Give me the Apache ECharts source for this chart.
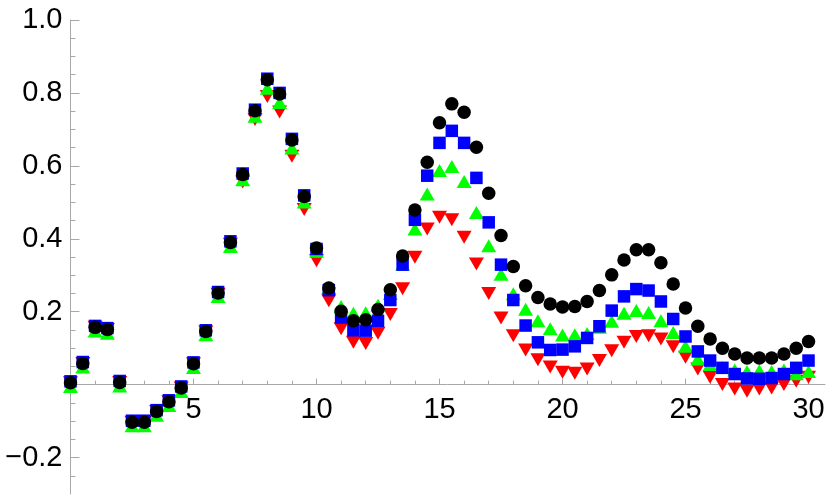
<!DOCTYPE html>
<html>
<head>
<meta charset="utf-8">
<script src="https://cdn.jsdelivr.net/npm/echarts@6/dist/echarts.min.js"></script>
<style>html,body{margin:0;padding:0;background:#fff;}#c{width:830px;height:498px;}</style>
</head>
<body>
<div id="c"></div>
<script>
var xs = [0,0.5,1,1.5,2,2.5,3,3.5,4,4.5,5,5.5,6,6.5,7,7.5,8,8.5,9,9.5,10,10.5,11,11.5,12,12.5,13,13.5,14,14.5,15,15.5,16,16.5,17,17.5,18,18.5,19,19.5,20,20.5,21,21.5,22,22.5,23,23.5,24,24.5,25,25.5,26,26.5,27,27.5,28,28.5,29,29.5,30];

var blackVals = [0.005,0.058,0.157,0.151,0.006,-0.103,-0.103,-0.074,-0.047,-0.009,0.057,
  0.146,0.251,0.390,0.576,0.751,0.836,0.797,0.671,0.516,0.375,
  0.265,0.201,0.175,0.178,0.206,0.260,0.353,0.479,0.610,0.718,
  0.770,0.747,0.651,0.525,0.409,0.324,0.271,0.239,0.221,0.213,
  0.214,0.228,0.258,0.301,0.342,0.370,0.370,0.334,0.276,0.210,
  0.160,0.125,0.100,0.084,0.073,0.073,0.073,0.084,0.100,0.118];

var blueVals = [0.009,0.062,0.161,0.155,0.010,-0.099,-0.099,-0.070,-0.043,-0.005,0.061,
  0.149,0.254,0.393,0.579,0.754,0.839,0.800,0.674,0.519,0.372,
  0.259,0.184,0.149,0.148,0.175,0.232,0.329,0.452,0.573,0.663,
  0.696,0.663,0.567,0.445,0.329,0.232,0.162,0.116,0.095,0.096,
  0.105,0.128,0.160,0.203,0.242,0.262,0.258,0.228,0.180,0.132,
  0.091,0.066,0.046,0.029,0.017,0.016,0.018,0.029,0.046,0.066];

var greenVals = [-0.005,0.048,0.147,0.141,-0.004,-0.113,-0.113,-0.084,-0.057,-0.019,0.047,
  0.137,0.242,0.379,0.562,0.736,0.813,0.774,0.649,0.501,0.366,
  0.266,0.214,0.196,0.197,0.218,0.250,0.330,0.427,0.523,0.587,
  0.598,0.557,0.472,0.381,0.303,0.249,0.207,0.175,0.153,0.136,
  0.137,0.140,0.157,0.174,0.196,0.203,0.198,0.175,0.143,0.105,
  0.070,0.055,0.047,0.040,0.036,0.038,0.036,0.040,0.030,0.036];

var redVals = [0.005,0.058,0.157,0.151,0.006,-0.103,-0.103,-0.074,-0.047,-0.009,0.057,
  0.144,0.248,0.385,0.556,0.727,0.790,0.748,0.626,0.480,0.340,
  0.230,0.153,0.116,0.113,0.141,0.192,0.263,0.349,0.427,0.459,
  0.452,0.404,0.331,0.250,0.183,0.134,0.095,0.068,0.048,0.034,
  0.031,0.043,0.066,0.093,0.116,0.132,0.134,0.125,0.104,0.075,
  0.043,0.020,0.000,-0.012,-0.018,-0.012,-0.009,0.000,0.009,0.020];

var xMajorTicks = [5,10,15,20,25,30];
var xMinorTicks = [1,2,3,4,6,7,8,9,11,12,13,14,16,17,18,19,21,22,23,24,26,27,28,29];
var yLabelTicks = [-0.2,0.2,0.4,0.6,0.8,1.0];
var yMajorTicks = [-0.2,0,0.2,0.4,0.6,0.8,1.0];
var yMinorTicks = [-0.25,-0.15,-0.1,-0.05,0.05,0.1,0.15,0.25,0.3,0.35,0.45,0.5,0.55,0.65,0.7,0.75,0.85,0.9,0.95];

function pairs(vals){ return xs.map(function(x,i){ return [x, vals[i]]; }); }

var AX = '#a8a8a8';
var FONT = 'Liberation Sans, Arial, sans-serif';
var XMAX = 30.67;
var YMIN = -0.3, YMAX = 1.0;
var GRID = {left:70.5, right:5, top:20, bottom:4};
var H = 498, W = 830;
var gridH = H - GRID.top - GRID.bottom;
var zeroPx = GRID.top + gridH * (YMAX - 0) / (YMAX - YMIN);
var bottomPx = H - GRID.bottom;

var chart = echarts.init(document.getElementById('c'), null, {renderer:'canvas'});
chart.setOption({
  animation:false,
  backgroundColor:'#fff',
  grid:{left:GRID.left, right:GRID.right, top:GRID.top, bottom:GRID.bottom, containLabel:false, outerBoundsMode:'none'},
  xAxis:[
    {type:'value', min:0, max:XMAX, position:'bottom', offset: zeroPx - bottomPx,
     axisLine:{show:true, onZero:false, lineStyle:{color:AX, width:1}},
     axisTick:{show:true, inside:true, length:6, customValues:xMajorTicks, lineStyle:{color:AX}},
     axisLabel:{show:true, customValues:xMajorTicks, fontSize:29, color:'#000', fontFamily:FONT, margin:11,
       formatter:function(v){return String(v);}},
     splitLine:{show:false}},
    {type:'value', min:0, max:XMAX, position:'top', offset: GRID.top - zeroPx,
     axisLine:{show:false, onZero:false},
     axisTick:{show:true, inside:false, length:4, customValues:xMinorTicks, lineStyle:{color:AX}},
     axisLabel:{show:false},
     splitLine:{show:false}}
  ],
  yAxis:[
    {type:'value', min:YMIN, max:YMAX, position:'left',
     axisLine:{show:true, onZero:false, lineStyle:{color:AX, width:1}},
     axisTick:{show:true, inside:true, length:9, customValues:yMajorTicks, lineStyle:{color:AX}},
     axisLabel:{show:true, customValues:yLabelTicks, fontSize:29, color:'#000', fontFamily:FONT, margin:8,
       formatter:function(v){ return v < 0 ? '\u2212' + Math.abs(v).toFixed(1) : v.toFixed(1); }},
     splitLine:{show:false}},
    {type:'value', min:YMIN, max:YMAX, position:'right', offset: GRID.left - (W - GRID.right),
     axisLine:{show:false, onZero:false},
     axisTick:{show:true, inside:false, length:5, customValues:yMinorTicks, lineStyle:{color:AX}},
     axisLabel:{show:false},
     splitLine:{show:false}}
  ],
  series:[
    {type:'scatter', name:'red', data:pairs(redVals), clip:false, symbol:'triangle', symbolSize:[15,13], symbolRotate:180,
     itemStyle:{color:'#ff0000', opacity:1}, xAxisIndex:0, yAxisIndex:0},
    {type:'scatter', name:'green', data:pairs(greenVals), clip:false, symbol:'triangle', symbolSize:[15,13],
     itemStyle:{color:'#00ff00', opacity:1}, xAxisIndex:0, yAxisIndex:0},
    {type:'scatter', name:'blue', data:pairs(blueVals), clip:false, symbol:'rect', symbolSize:12.5,
     itemStyle:{color:'#0000ff', opacity:1}, xAxisIndex:0, yAxisIndex:0},
    {type:'scatter', name:'black', data:pairs(blackVals), clip:false, symbol:'circle', symbolSize:13.5,
     itemStyle:{color:'#000000', opacity:1}, xAxisIndex:0, yAxisIndex:0}
  ]
});
</script>
</body>
</html>
